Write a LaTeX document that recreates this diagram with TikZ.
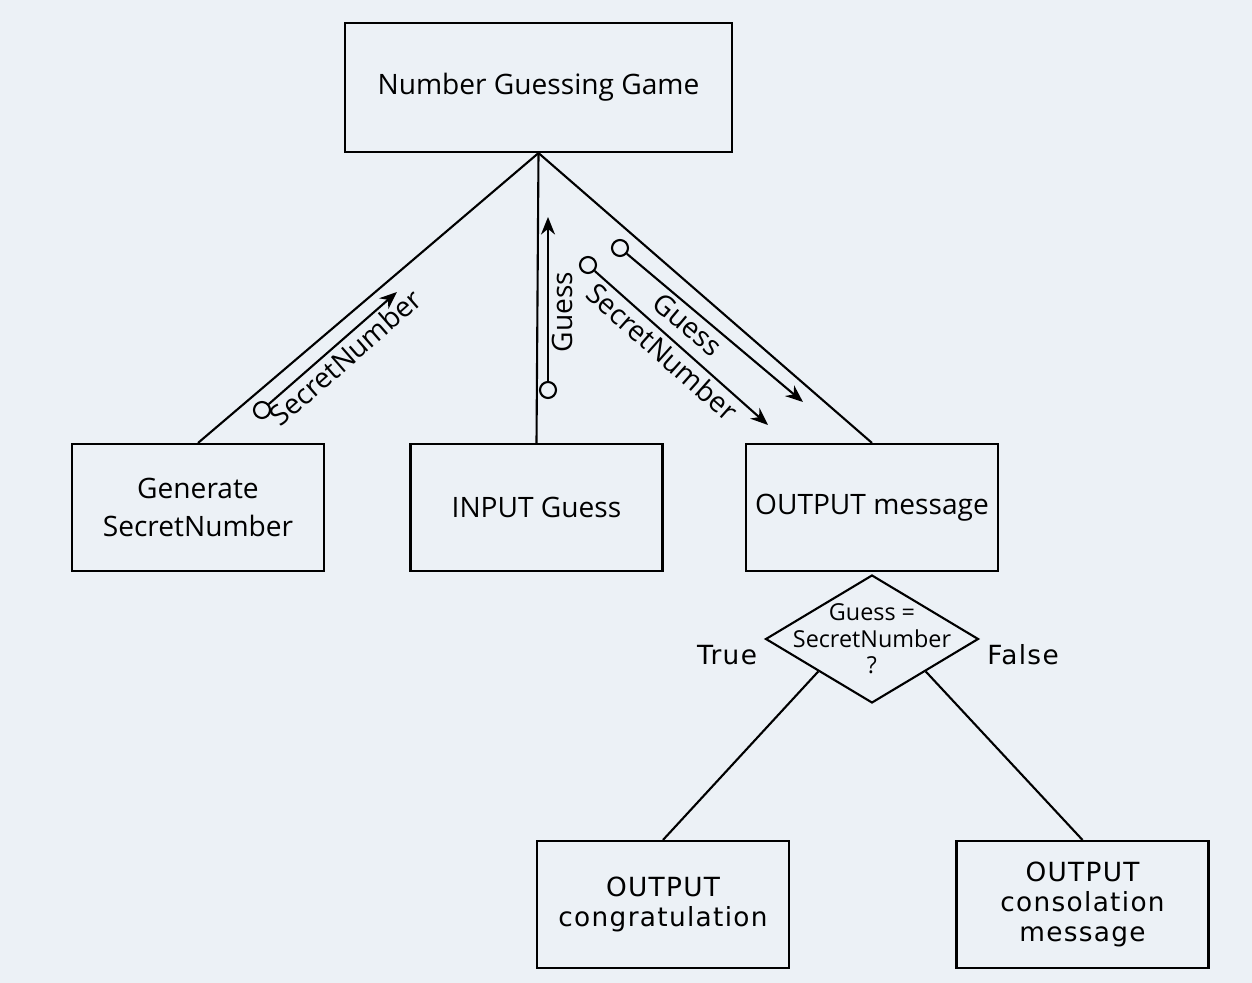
\documentclass[tikz,border=0pt]{standalone}
\usepackage{fontspec}
\setmainfont{Open Sans}
\newfontfamily\wideface[LetterSpace=5]{DejaVu Sans}
\usepackage{xcolor}
\usetikzlibrary{shapes.geometric,arrows.meta}
\definecolor{paper}{RGB}{236,241,246}

\begin{document}
\begin{tikzpicture}[x=0.02cm,y=-0.02cm,
    box/.style={draw,line width=1.2pt,minimum width=5.04cm,minimum height=2.54cm,align=center,
      font=\fontsize{16}{21.6}\selectfont},
    widebox/.style={box,font=\wideface\fontsize{15}{17}\selectfont},
    decision/.style={draw,diamond,line width=1.2pt,minimum width=4.26cm,minimum height=2.56cm,inner sep=0pt},
    asktext/.style={align=center,font=\fontsize{13.3}{15}\selectfont},
    link/.style={line width=1.2pt},
    flow/.style={line width=1.2pt,-{Stealth[length=10pt,width=8pt]}},
    couple/.style={draw,circle,line width=1.2pt,minimum size=0.32cm,inner sep=0pt},
    lab/.style={font=\fontsize{16}{18}\selectfont,sloped,below,inner sep=2pt},
    branch/.style={font=\wideface\fontsize{15}{17}\selectfont}]
    % page
    \fill[paper] (0,0) rectangle (1252,983);
    \useasboundingbox (0,0) rectangle (1252,983);

    % top module
    \node[box,minimum width=7.74cm,minimum height=2.58cm] (game) at (538.5,87.5) {Number Guessing Game};

    % sub modules
    \node[box] (gen) at (198,507.5) {Generate\\SecretNumber};
    \node[box] (inp) at (536.5,507.5) {INPUT Guess};
    \node[box] (out) at (872,507.5) {OUTPUT message};

    \draw[link] (game.south) -- (gen.north);
    \draw[link] (game.south) -- (inp.north);
    \draw[link] (game.south) -- (out.north);

    % data passed
    \node[couple] (c1) at (262,410) {};
    \coordinate (t1) at (397,292);
    \draw[flow] (c1) -- node[lab,pos=.52] {SecretNumber} (t1);

    \node[couple] (c2) at (548,390) {};
    \coordinate (t2) at (548,217);
    \draw[flow] (c2) -- node[lab,pos=.42] {Guess} (t2);

    \node[couple] (c3) at (620,248) {};
    \coordinate (t3) at (803,402);
    \draw[flow] (c3) -- node[lab,pos=.4] {Guess} (t3);

    \node[couple] (c4) at (588,265) {};
    \coordinate (t4) at (768,425);
    \draw[flow] (c4) -- node[lab,pos=.45] {SecretNumber} (t4);

    % selection
    \node[decision] (dia) at (872,639) {};
    \node[asktext] (ask) at (dia.center) {Guess =\\SecretNumber\\?};

    \node[widebox] (cong) at (663,904.5) {OUTPUT\\congratulation};
    \node[widebox] (cons) at (1082.5,904.5) {OUTPUT\\consolation\\message};

    \draw[link] (dia.south west) -- (cong.north);
    \draw[link] (dia.south east) -- (cons.north);

    \node[branch] (yes) at (727,655) {True};
    \node[branch] (no) at (1023,655) {False};
\end{tikzpicture}
\end{document}
